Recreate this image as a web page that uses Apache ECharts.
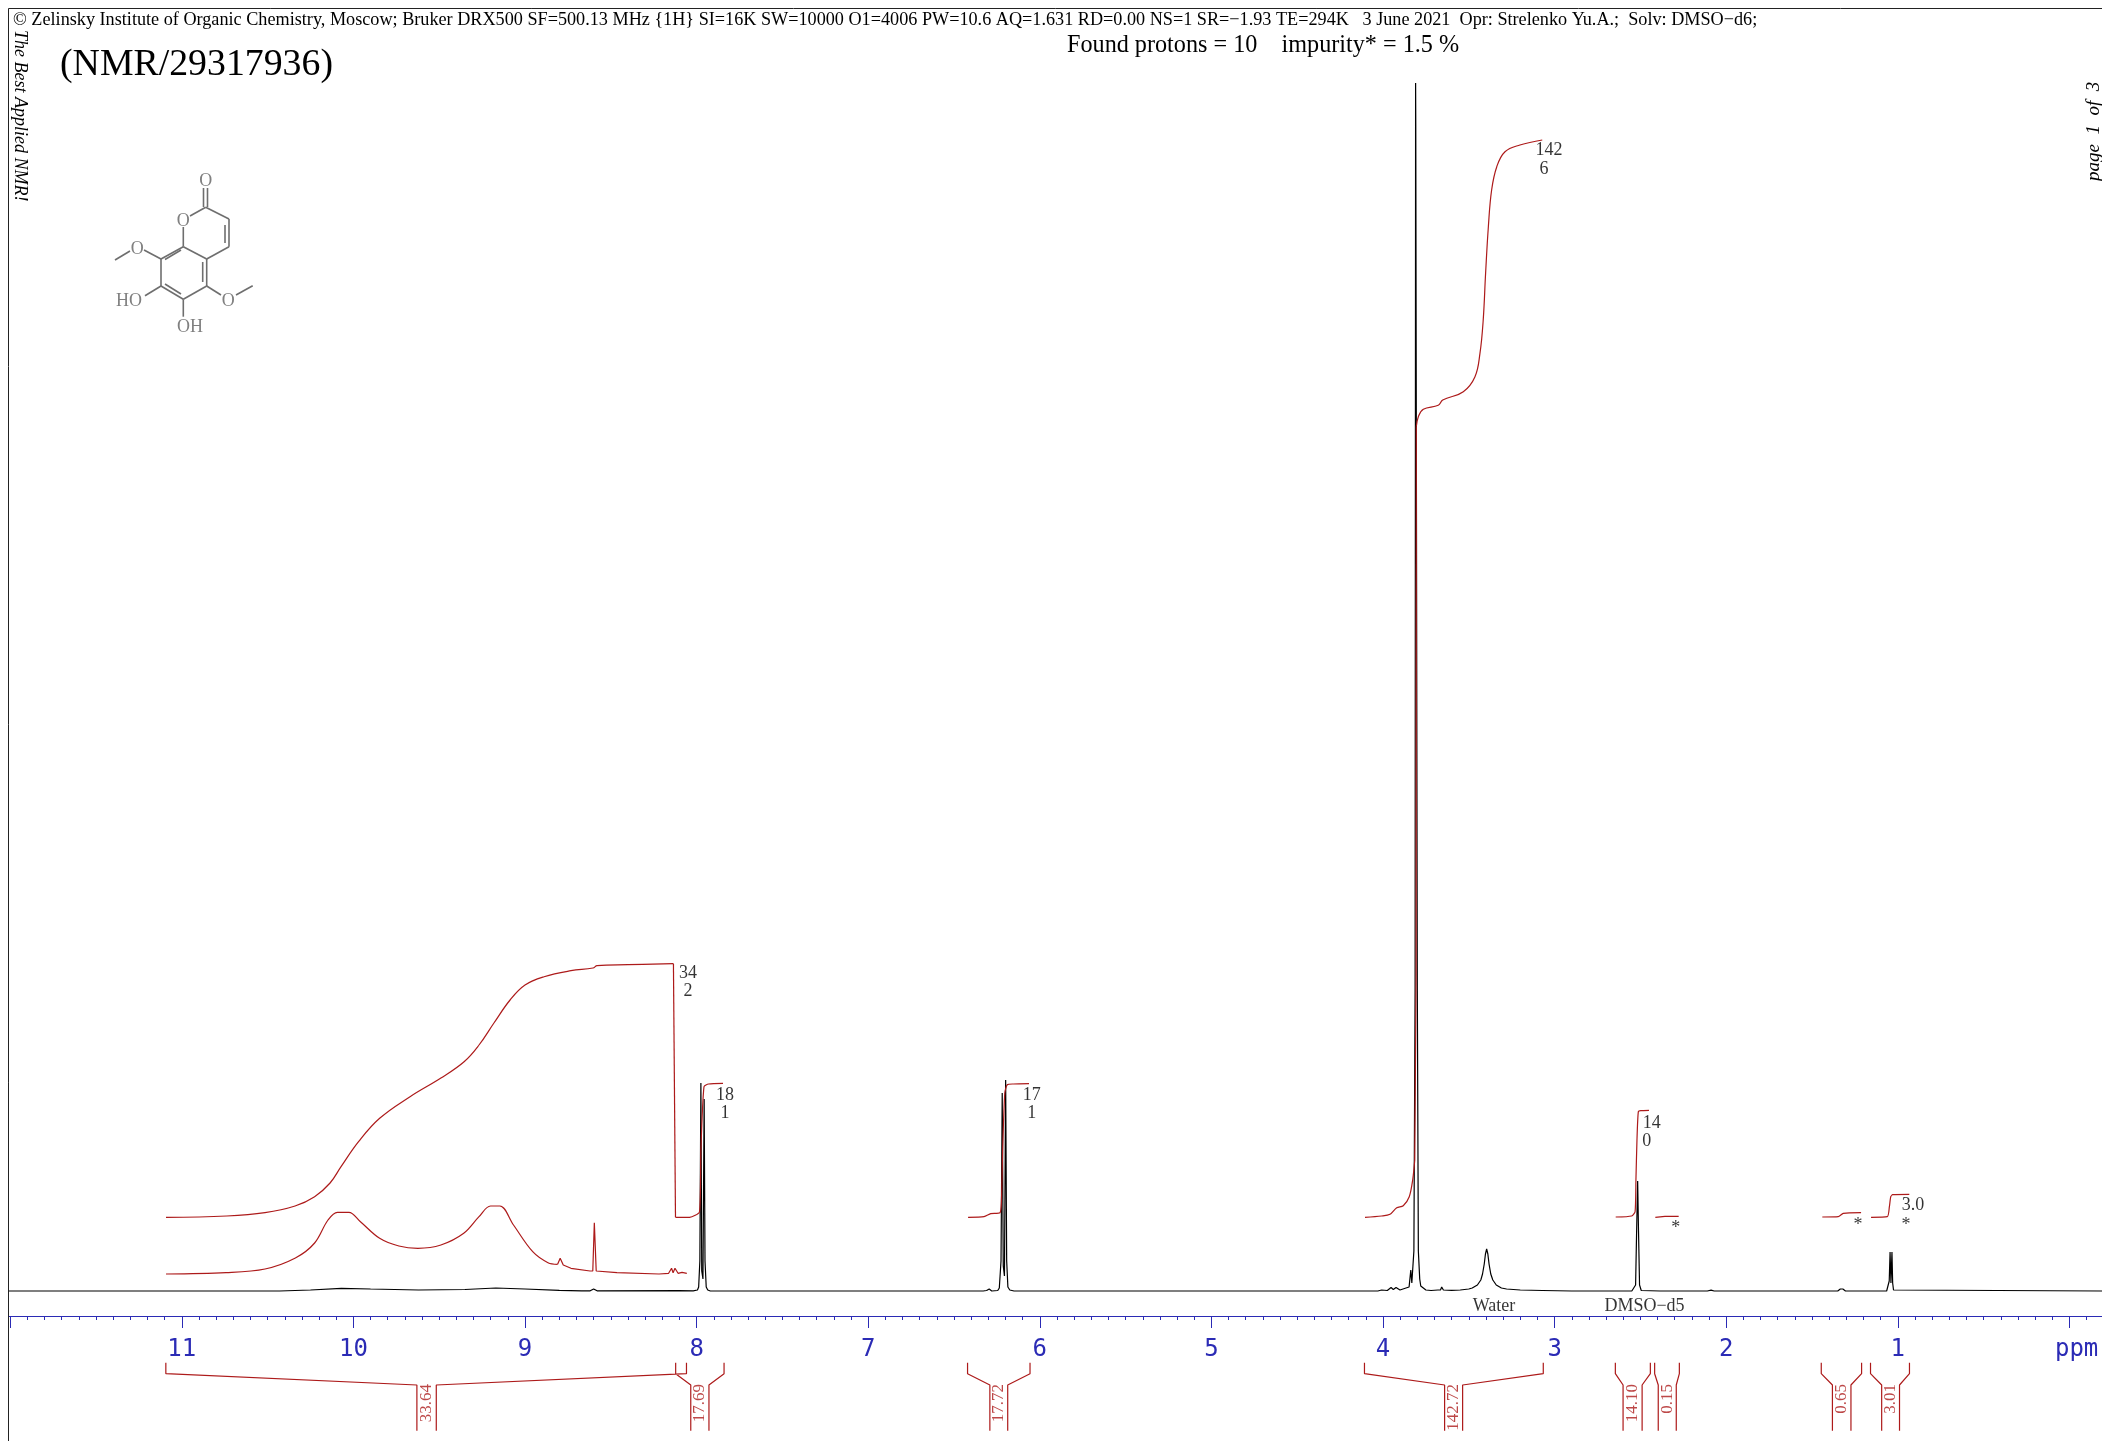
<!DOCTYPE html>
<html><head><meta charset="utf-8">
<style>html,body{margin:0;padding:0;background:#fff}#c{width:2102px;height:1441px}</style>
<script src="https://cdn.jsdelivr.net/npm/echarts@6/dist/echarts.min.js"></script>
</head><body><div id="c"></div>
<script>
// ---------- text ----------
const headerLine = "© Zelinsky Institute of Organic Chemistry, Moscow; Bruker DRX500 SF=500.13 MHz {1H} SI=16K SW=10000 O1=4006 PW=10.6 AQ=1.631 RD=0.00 NS=1 SR=−1.93 TE=294K   3 June 2021  Opr: Strelenko Yu.A.;  Solv: DMSO−d6;";
const summaryLine = "Found protons = 10    impurity* = 1.5 %";
const titleLine = "(NMR/29317936)";
const sideLeft = "The Best Applied NMR!";
const sideRight = "page  1  of  3";
// ---------- axis ----------
const ppmLabels = ['ppm','1','2','3','4','5','6','7','8','9','10','11'];
// ---------- spectrum [ppm, intensity] ----------
const spectrum = [
[12.02,0],[10.43,0],[10.25,1],[10.07,2.7],[9.9,2],[9.62,1],[9.35,1.5],[9.17,3],[9.0,2],[8.8,0.7],[8.67,0.2],[8.62,0.2],[8.6,2],[8.58,0.2],
[8.1,0.3],[8.02,0.2],[7.995,1],[7.988,4],[7.981,30],[7.975,208],[7.97,20],[7.963,12],[7.956,192],[7.951,30],[7.944,4],[7.935,1],[7.92,0],
[6.33,0],[6.32,2],[6.31,0.5],[6.295,2],[6.28,0],[6.245,0.5],[6.236,3],[6.226,30],[6.219,198],[6.213,25],[6.206,15],[6.199,211],[6.193,30],[6.186,4],[6.175,1],[6.165,1.5],[6.15,0],
[4.03,0],[4.008,1],[3.975,0.5],[3.953,3.5],[3.94,1.5],[3.924,3.5],[3.901,1],[3.866,3],[3.848,4],[3.838,21],[3.832,8],[3.826,6],[3.82,40],[3.813,300],[3.81,1208],[3.809,1165],[3.802,1165],[3.8,300],[3.794,40],[3.786,12],[3.78,5],[3.772,3],[3.75,1],[3.72,0.5],[3.68,1],[3.665,1],[3.658,4],[3.648,1],
[3.6,0.6],[3.55,1],[3.5,2],[3.48,3],[3.45,6],[3.43,11],[3.42,17],[3.41,27],[3.403,37],[3.396,42],[3.389,37],[3.382,27],[3.372,17],[3.36,11],[3.34,6],[3.31,3],[3.28,2],[3.2,1],[3.07,0.5],[2.9,0],
[2.655,0],[2.648,0.7],[2.64,0],[2.615,0],[2.609,0.7],[2.6,0],[2.55,0],[2.54,1],[2.528,6],[2.522,60],[2.516,110],[2.511,60],[2.505,6],[2.495,0.5],[2.49,0],
[2.385,0],[2.376,0.7],[2.365,0],[2.11,0],[2.088,0.9],[2.07,0],
[1.35,0],[1.335,2],[1.32,2],[1.305,0],
[1.065,0],[1.055,1],[1.05,10],[1.045,39],[1.04,8],[1.034,39],[1.03,8],[1.025,1],[1.015,0],[-0.2,0]
];
// vertically scaled copy of the 7.9–11 ppm region
const scaledBroad = [
[11.092,17],[10.742,18.3],[10.515,22],[10.338,33],[10.226,48],[10.148,71],[10.093,78.7],[10.026,78.7],[9.959,69.3],[9.847,52.7],[9.735,45],[9.624,42.7],[9.49,46],[9.357,57.7],[9.268,74.3],[9.201,85],[9.146,85],[9.067,66],[8.955,39.3],[8.866,28.3],[8.81,26.7]
];
const scaledSharp = [
[8.81,26.7],[8.795,32.7],[8.777,26],[8.732,22.7],[8.621,20],[8.605,20],[8.596,68.3],[8.585,20],[8.464,18.3],[8.219,17],[8.163,17.7],[8.146,22.7],[8.137,18.3],[8.126,22.7],[8.108,17.7],[8.085,18.7],[8.057,17.7]
];
// ---------- integral curves ----------
const integralBroad = [[11.092,73.7],[10.739,75],[10.515,78.3],[10.34,85],[10.226,94.3],[10.136,108],[10.072,124.3],[9.97,149.3],[9.847,172.7],[9.67,194.3],[9.49,213],[9.355,229.3],[9.268,246],[9.181,268],[9.087,291],[9.0,306],[8.889,314.3],[8.732,320.3],[8.604,323],[8.58,325.3],[8.4,326.3],[8.135,327.3]];
const integralBroadDrop = [[8.135,327.3],[8.123,73.7]];
const integralH8 = [[8.123,73.7],[8.041,73.7],[7.983,79.3],[7.975,141],[7.957,204.3],[7.93,207],[7.846,207.7]];
const integralH6 = [[6.418,73.7],[6.325,74.3],[6.286,77.3],[6.232,78.3],[6.224,88],[6.216,144.3],[6.204,198],[6.19,206.3],[6.154,207],[6.063,207.3]];
const integralOMeFoot = [[4.105,73.7],[4.008,75],[3.959,76.7],[3.92,83.3],[3.882,85.3],[3.847,94.3],[3.827,111],[3.815,131]];
const integralOMeStep = [[3.815,131],[3.807,317],[3.8065,591],[3.806,864.3]];
const integralOMeTop = [[3.806,864.3],[3.794,874.3],[3.765,881.7],[3.678,885.7],[3.652,891],[3.532,899.3],[3.464,914.3],[3.435,937.7],[3.416,971],[3.402,1018],[3.386,1064.3],[3.367,1101],[3.337,1124.3],[3.289,1139.3],[3.202,1146],[3.072,1151]];
const integralDmso = [[2.644,74],[2.551,75],[2.531,79.3],[2.526,111],[2.52,151],[2.512,179.3],[2.498,180.3],[2.45,180.7]];
const integralImp1 = [[2.413,73.7],[2.357,74.7],[2.277,74.7]];
const integralImp2 = [[1.44,74],[1.347,74.3],[1.318,77.7],[1.214,78.3]];
const integralImp3 = [[1.156,73.7],[1.061,74.3],[1.049,84.3],[1.041,94.3],[1.03,96.3],[0.933,96.7]];
// ---------- integral brackets under the axis ----------
const bracketValues = ['33.64','17.69','17.72','142.72','14.10','0.15','0.65','3.01'];
const bracketFrom    = [11.093,8.122,6.421,4.108,2.646,2.417,1.446,1.159];
const bracketNeckIn  = [9.63,8.034,6.291,3.641,2.601,2.396,1.381,1.094];
const bracketNeckOut = [9.517,7.928,6.187,3.536,2.49,2.291,1.273,0.99];
const bracketTo      = [8.059,7.84,6.057,3.066,2.442,2.273,1.211,0.932];
const bracketLevels  = [-71.7,-82.7,-94,-139.7];
// ---------- annotations: text, ppm, level ----------
const noteTexts = ['34','2','18','1','17','1','142','6','14','0','3.0','*','*','*','Water','DMSO−d5'];
const notePpm   = [8.05,8.05,7.834,7.834,6.047,6.047,3.033,3.062,2.434,2.463,0.911,0.952,2.294,1.232,3.353,2.476];
const noteLevel = [318,300,196,178,196,178,1141,1122,168,150,86,66,63,66,-15,-15];

const RED='#ad1a1a', BLUE='#2b2bb5', SERIF='"Liberation Serif","Times New Roman",serif';
const chart = echarts.init(document.getElementById('c'),null,{renderer:'canvas'});

const redLine = (d,smooth) => ({type:'line',data:d,showSymbol:false,symbol:'none',animation:false,silent:true,smooth:smooth||false,lineStyle:{color:RED,width:1.2}});
const bracketPath=[];
bracketValues.forEach((_,i)=>{
  const [a,b,c,d]=bracketLevels;
  bracketPath.push([bracketFrom[i],a],[bracketFrom[i],b],[bracketNeckIn[i],c],[bracketNeckIn[i],d],[null,null],
                   [bracketNeckOut[i],d],[bracketNeckOut[i],c],[bracketTo[i],b],[bracketTo[i],a],[null,null]);
});
const GRAY='#6e6e6e', ATOM='#808080';
const seg=(x1,y1,x2,y2)=>({type:'line',silent:true,z:20,shape:{x1,y1,x2,y2},style:{stroke:GRAY,lineWidth:1.6}});
const txt=(text,x,y,font,fill,align,extra)=>Object.assign({type:'text',silent:true,z:30,x,y,style:{text,font,fill:fill||'#000',textAlign:align||'left',textVerticalAlign:'middle'}},extra||{});
const molecule=[
 seg(203.5,207,203.5,188),seg(207.5,207,207.5,188),
 seg(205.7,207.3,190,216),seg(205.7,207.3,229,219),seg(229,219,229,246.7),seg(225,225,225,243),
 seg(229,246.7,206.7,259),seg(206.7,259,183.3,246.7),seg(183.3,246.7,183.3,227),
 seg(183.3,246.7,161,259),seg(181,250,165,259.5),seg(161,259,161,286),seg(161,286,183.3,299.3),seg(165,284,181,294),
 seg(183.3,299.3,206.7,286),seg(206.7,286,206.7,259),seg(202.7,282,202.7,262),
 seg(161,259,144,250),seg(130,251,115,260),
 seg(206.7,286,221,295),seg(236,295,252.7,285.7),
 seg(161,286,145,295.7),seg(183.3,299.3,183.3,316.7),
 txt('O',205.7,181,'18px '+SERIF,ATOM,'center'),txt('O',183.3,221,'18px '+SERIF,ATOM,'center'),
 txt('O',137.3,249,'18px '+SERIF,ATOM,'center'),txt('O',228.3,301,'18px '+SERIF,ATOM,'center'),
 txt('HO',129,301,'18px '+SERIF,ATOM,'center'),txt('OH',190,327,'18px '+SERIF,ATOM,'center')
];

chart.setOption({
  animation:false,backgroundColor:'#fff',
  grid:{left:-161.4,right:-139,top:0,bottom:0,containLabel:false,outerBoundsMode:'none',show:false},
  xAxis:{type:'value',inverse:true,min:-1,max:13,interval:1,offset:-125,position:'bottom',
    axisLine:{onZero:false,lineStyle:{color:BLUE,width:1}},
    axisTick:{show:true,length:12,lineStyle:{color:BLUE,width:1}},
    minorTick:{show:true,splitNumber:10,length:4,lineStyle:{color:BLUE,width:1}},
    splitLine:{show:false},minorSplitLine:{show:false},
    axisLabel:{show:true,margin:22,hideOverlap:false,color:BLUE,fontFamily:'"DejaVu Sans Mono",monospace',fontSize:24,
      formatter:v=>{const t=ppmLabels[v];return v===0?' '+t:(t||'');}}},
  yAxis:{type:'value',min:-150,max:1291,show:false,splitLine:{show:false}},
  tooltip:{show:false},legend:{show:false},
  series:[
    {type:'line',data:spectrum,showSymbol:false,symbol:'none',animation:false,silent:true,sampling:false,lineStyle:{color:'#000',width:1.2}},
    redLine(scaledBroad,0.35),redLine(scaledSharp),
    redLine(integralBroad,0.4),redLine(integralBroadDrop),redLine(integralH8,0.2),redLine(integralH6,0.2),
    redLine(integralOMeFoot,0.3),redLine(integralOMeStep),redLine(integralOMeTop,0.4),
    redLine(integralDmso,0.2),redLine(integralImp1),redLine(integralImp2,0.2),redLine(integralImp3,0.2),
    Object.assign(redLine(bracketPath),{connectNulls:false}),
    {type:'scatter',symbolSize:0,silent:true,animation:false,
      data:bracketValues.map((v,i)=>({value:[(bracketNeckIn[i]+bracketNeckOut[i])/2,bracketLevels[2]+1],name:v})),
      label:{show:true,position:'inside',rotate:90,align:'right',verticalAlign:'middle',formatter:p=>p.name,color:RED,fontFamily:SERIF,fontSize:17}},
    {type:'scatter',symbolSize:0,silent:true,animation:false,
      data:noteTexts.map((t,i)=>({value:[notePpm[i],noteLevel[i]],name:t})),
      label:{show:true,position:'inside',align:'center',verticalAlign:'middle',formatter:p=>p.name,color:'#000',fontFamily:SERIF,fontSize:18}}
  ],
  graphic:[
    {type:'rect',silent:true,z:10,shape:{x:0,y:0,width:8,height:1441},style:{fill:'#fff'}},
    {type:'polyline',silent:true,z:11,shape:{points:[[8.5,1441],[8.5,8.5],[2102,8.5]]},style:{stroke:'#222',lineWidth:1,fill:null}},
    txt(headerLine,13,20,'18.2px '+SERIF),
    txt(summaryLine,1067,46,'24.2px '+SERIF),
    txt(titleLine,60,65,'37.8px '+SERIF),
    txt(sideLeft,20,30,'italic 18px '+SERIF,'#000','left',{rotation:-Math.PI/2}),
    txt(sideRight,2094,181,'italic 19px '+SERIF,'#000','left',{rotation:Math.PI/2}),
    ...molecule
  ]
});
</script></body></html>
